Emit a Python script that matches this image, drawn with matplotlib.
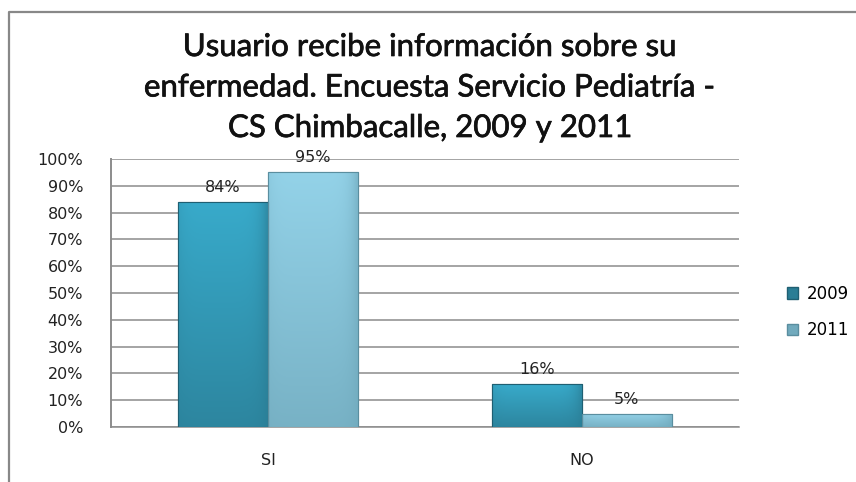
import matplotlib
matplotlib.use("Agg")
import matplotlib.pyplot as plt
import matplotlib.patheffects as pe
import numpy as np
from matplotlib.lines import Line2D
from matplotlib.patches import Patch
from matplotlib.colors import LinearSegmentedColormap

categories = ["SI", "NO"]
series_names = ["2009", "2011"]
values_2009 = [84, 16]
values_2011 = [95, 5]
yticks = [0, 10, 20, 30, 40, 50, 60, 70, 80, 90, 100]
title_lines = ["Usuario recibe información sobre su",
               "enfermedad. Encuesta Servicio Pediatría -",
               "CS Chimbacalle, 2009 y 2011"]

W, H = 856, 482
fig = plt.figure(figsize=(W / 100, H / 100), dpi=100)
ax = fig.add_axes([111 / W, 1 - 427 / H, 628 / W, 268 / H])

x = np.arange(len(categories))
bw = 0.286

cols = {
    "2009": ("#38aaca", "#2a7d95", "#1f5f72"),
    "2011": ("#93d2e8", "#71aabd", "#5a8e9f"),
}

def draw_bars(xs, vals, name):
    top, bot, edge = cols[name]
    bars = ax.bar(xs, vals, bw, color=bot, edgecolor=edge, linewidth=0.8, zorder=3)
    cmap = LinearSegmentedColormap.from_list(name, [bot, top])
    for b in bars:
        x0, y0 = b.get_x(), b.get_y()
        w, h = b.get_width(), b.get_height()
        ny, nx = 60, 30
        yy = np.linspace(0, 1, ny)[:, None]
        xx = np.linspace(0, 1, nx)[None, :]
        side = 1 - 0.35 * (np.abs(xx - 0.45) * 2) ** 6
        grad = (0.2 + 0.8 * yy) * side
        im = ax.imshow(grad, cmap=cmap, vmin=0, vmax=1, origin="lower",
                       extent=[x0, x0 + w, y0, y0 + h], aspect="auto", zorder=3.5,
                       interpolation="bilinear")
        im.set_clip_path(b)
        ax.bar(x0 + w / 2, h, w, fill=False, edgecolor=edge, linewidth=0.8, zorder=4)
    return bars

b1 = draw_bars(x - bw / 2, values_2009, "2009")
b2 = draw_bars(x + bw / 2, values_2011, "2011")

for xs, vals in ((x - bw / 2, values_2009), (x + bw / 2, values_2011)):
    for xi, v in zip(xs, vals):
        ax.annotate(f"{v}%", (xi, v), xytext=(0, 5), textcoords="offset points",
                    ha="center", va="bottom", fontsize=11.5, color="#222222",
                    fontfamily="DejaVu Sans", zorder=5)

ax.set_xlim(-0.5, 1.5)
ax.set_ylim(0, 100)
ax.set_yticks(yticks)
ax.set_yticklabels([f"{t}%" for t in yticks], fontsize=11.5, fontfamily="DejaVu Sans", color="#222222")
ax.set_xticks(x)
ax.set_xticklabels(categories, fontsize=11.5, fontfamily="DejaVu Sans", color="#222222")
ax.tick_params(axis="both", length=0)
ax.tick_params(axis="x", pad=19)
ax.tick_params(axis="y", pad=20)
ax.yaxis.grid(True, color="#8c8c8c", linewidth=1.1, zorder=0)
ax.set_axisbelow(True)
for s in ("top", "right"):
    ax.spines[s].set_visible(False)
ax.spines["left"].set_color("#8c8c8c")
ax.spines["left"].set_linewidth(1.4)
ax.spines["bottom"].set_color("#8c8c8c")
ax.spines["bottom"].set_linewidth(1.1)

handles = [Patch(facecolor=cols["2009"][1], edgecolor=cols["2009"][2]),
           Patch(facecolor=cols["2011"][1], edgecolor=cols["2011"][2])]
fig.legend(handles, series_names, loc="center left", bbox_to_anchor=(772 / W, 1 - 312 / H),
           frameon=False, handlelength=0.65, handleheight=0.65,
           handletextpad=0.55, labelspacing=1.1, prop={"family": "DejaVu Sans", "size": 12})

for i, line in enumerate(title_lines):
    fig.text(430 / W, 1 - (47 + 40.5 * i) / H, line, ha="center", va="center", fontsize=22.5,
             fontfamily="Lato", fontweight="normal", color="#111111",
             path_effects=[pe.withStroke(linewidth=0.5, foreground="#111111")])

fig.add_artist(Line2D([8.5 / W, 8.5 / W, 1], [0, 1 - 11.5 / H, 1 - 11.5 / H],
                      color="#888888", linewidth=1.6, transform=fig.transFigure))

fig.savefig("out.png", dpi=100)
